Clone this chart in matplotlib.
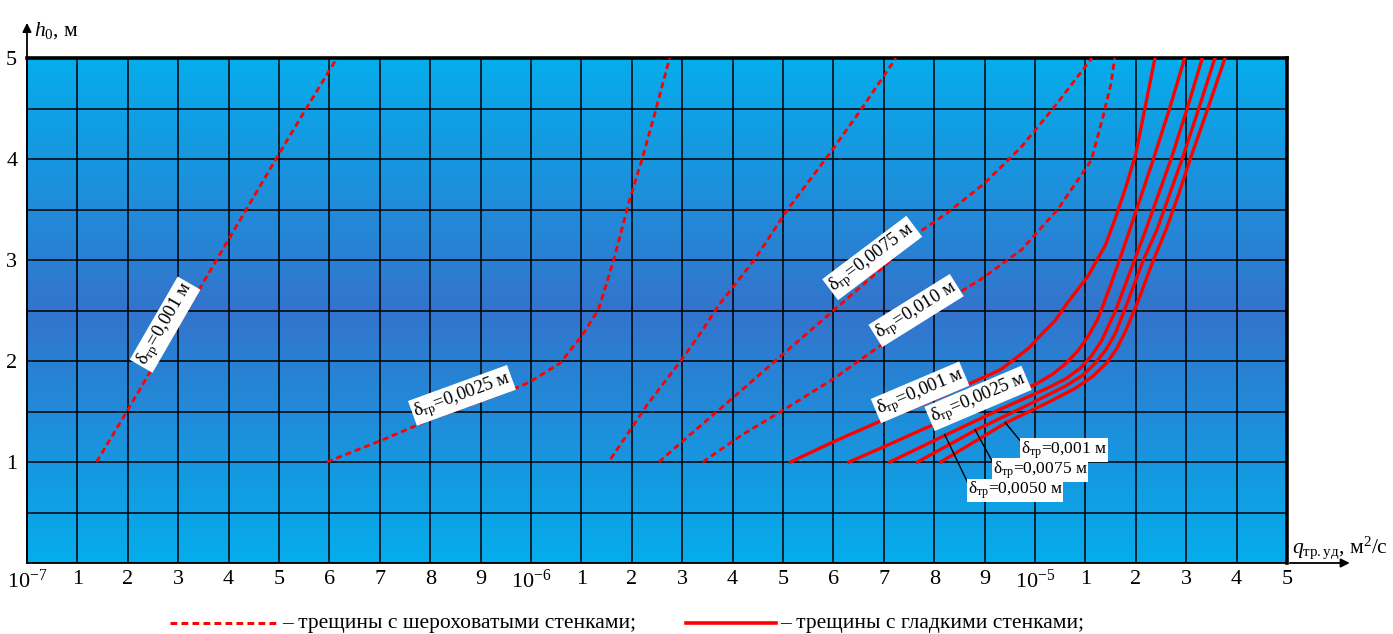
import matplotlib
matplotlib.use("Agg")
import matplotlib.pyplot as plt
from matplotlib.colors import LinearSegmentedColormap
from matplotlib.lines import Line2D
import numpy as np

plt.rcParams['font.family'] = ['Liberation Serif', 'DejaVu Serif']
plt.rcParams['mathtext.fontset'] = 'custom'
plt.rcParams['mathtext.rm'] = 'Liberation Serif'
plt.rcParams['mathtext.it'] = 'Liberation Serif:italic'

# x axis: equally spaced ticks 10^-7, 1..9, 10^-6, 1..9, 10^-5, 1..5
x_labels = ["10$^{\\mathrm{-7}}$"] + [str(i) for i in range(1, 10)] + ["10$^{\\mathrm{-6}}$"] + \
           [str(i) for i in range(1, 10)] + ["10$^{\\mathrm{-5}}$"] + [str(i) for i in range(1, 6)]
y_ticks = [1, 2, 3, 4, 5]

# rough-wall cracks (dashed), x in tick-index units, y = h0
rough_001_x = [1.38, 1.98, 2.57, 3.17, 3.76, 4.35, 4.94, 5.54, 6.15]
rough_001_y = [1.0, 1.5, 2.0, 2.5, 3.0, 3.5, 4.0, 4.5, 5.0]
rough_0025_x = [5.95, 7.06, 8.0, 9.0, 9.79, 10.0, 10.58, 11.01, 11.34, 11.64, 11.97, 12.21, 12.44, 12.75]
rough_0025_y = [1.0, 1.22, 1.42, 1.6, 1.75, 1.8, 1.98, 2.25, 2.51, 3.0, 3.62, 4.01, 4.42, 5.0]
rough_3_x = [11.58, 12.0, 12.31, 12.97, 13.37, 13.72, 14.43, 15.09, 15.89, 16.55, 17.24]
rough_3_y = [1.03, 1.34, 1.57, 2.0, 2.28, 2.55, 3.0, 3.5, 4.03, 4.49, 5.0]
rough_0075_x = [12.54, 12.97, 13.9, 14.89, 15.98, 17.08, 17.6, 18.27, 19.0, 19.73, 20.39, 21.13]
rough_0075_y = [1.0, 1.19, 1.59, 2.02, 2.49, 2.97, 3.24, 3.47, 3.76, 4.12, 4.52, 5.0]
rough_010_x = [13.41, 14.16, 14.96, 16.02, 17.01, 17.94, 18.93, 19.73, 20.45, 21.12, 21.35, 21.51, 21.58]
rough_010_y = [1.0, 1.26, 1.5, 1.83, 2.18, 2.51, 2.81, 3.1, 3.5, 3.99, 4.42, 4.75, 5.0]

# smooth-wall cracks (solid)
smooth_1_x = [15.15, 16.0, 17.0, 18.0, 18.9, 19.3, 19.6, 19.88, 20.1, 20.4, 20.65, 21.05, 21.4,
              21.62, 21.82, 22.0, 22.18, 22.38]
smooth_1_y = [1.0, 1.2, 1.42, 1.62, 1.82, 1.91, 2.02, 2.13, 2.25, 2.4, 2.58, 2.84, 3.15,
              3.45, 3.75, 4.05, 4.5, 5.0]
smooth_2_x = [16.31, 17.0, 17.8, 18.9, 19.7, 20.05, 20.35, 20.6, 20.85, 21.05, 21.25, 21.5, 21.78,
              22.05, 22.35, 22.67, 22.97]
smooth_2_y = [1.0, 1.15, 1.33, 1.55, 1.7, 1.78, 1.87, 1.97, 2.1, 2.24, 2.42, 2.75, 3.15,
              3.55, 4.0, 4.5, 5.0]
smooth_3_x = [17.12, 18.24, 19.3, 20.2, 20.6, 20.9, 21.12, 21.32, 21.6, 21.9, 22.2, 22.45, 22.7,
              23.02, 23.32]
smooth_3_y = [1.0, 1.27, 1.52, 1.72, 1.82, 1.93, 2.05, 2.2, 2.5, 2.9, 3.3, 3.65, 4.0, 4.5, 5.0]
smooth_4_x = [17.67, 18.84, 19.8, 20.6, 20.95, 21.2, 21.42, 21.6, 21.85, 22.15, 22.42, 22.67, 22.92,
              23.25, 23.57]
smooth_4_y = [1.0, 1.32, 1.55, 1.75, 1.86, 1.98, 2.12, 2.28, 2.6, 3.0, 3.3, 3.65, 4.0, 4.5, 5.0]
smooth_5_x = [18.13, 19.43, 20.3, 20.8, 21.15, 21.42, 21.62, 21.8, 22.05, 22.35, 22.6, 22.85, 23.08,
              23.43, 23.77]
smooth_5_y = [1.0, 1.39, 1.6, 1.73, 1.85, 1.98, 2.12, 2.3, 2.6, 3.0, 3.3, 3.65, 4.0, 4.5, 5.0]

fig = plt.figure(figsize=(13.93, 6.34), dpi=100)
ax = fig.add_axes([27 / 1393, 71 / 634, 1260 / 1393, 505 / 634])

# background gradient: light at top/bottom, darker in the middle
cmap = LinearSegmentedColormap.from_list("bg", ["#05adec", "#3374cc", "#05adec"])
grad = np.linspace(0, 1, 256).reshape(-1, 1)
ax.imshow(grad, cmap=cmap, aspect='auto', extent=(0, 25, 0, 5), origin='lower', zorder=0)

ax.set_xlim(0, 25)
ax.set_ylim(0, 5)
ax.set_xticks(range(26))
ax.set_xticklabels(x_labels, fontsize=16)
ax.set_yticks(y_ticks)
ax.set_yticklabels([str(v) for v in y_ticks], fontsize=16)
ax.set_yticks(np.arange(0, 5.01, 0.5), minor=True)
ax.tick_params(which='both', length=0)
ax.tick_params(axis='x', pad=5)
ax.tick_params(axis='y', pad=7)
ax.grid(which='both', color='black', linewidth=1.1, zorder=1)
ax.set_axisbelow(False)
for s in ['top', 'right']:
    ax.spines[s].set_linewidth(2.6)
for s in ['left', 'bottom']:
    ax.spines[s].set_linewidth(1.3)

dash = (0, (2.2, 1.4))
for xs, ys in [(rough_001_x, rough_001_y), (rough_0025_x, rough_0025_y), (rough_3_x, rough_3_y),
               (rough_0075_x, rough_0075_y), (rough_010_x, rough_010_y)]:
    ax.plot(xs, ys, color='#ff0000', lw=2.0, linestyle=dash, zorder=3)
for xs, ys in [(smooth_1_x, smooth_1_y), (smooth_2_x, smooth_2_y), (smooth_3_x, smooth_3_y),
               (smooth_4_x, smooth_4_y), (smooth_5_x, smooth_5_y)]:
    ax.plot(xs, ys, color='#ff0000', lw=2.4, zorder=3, solid_joinstyle='round')

box = dict(facecolor='white', edgecolor='none', pad=1.2)
rotated = [
    ("δ$_{\\mathrm{тр}}$=0,001 м", 2.74, 2.36, 60),
    ("δ$_{\\mathrm{тр}}$=0,0025 м", 8.63, 1.66, 20),
    ("δ$_{\\mathrm{тр}}$=0,0075 м", 16.77, 3.02, 37),
    ("δ$_{\\mathrm{тр}}$=0,010 м", 17.64, 2.5, 32),
    ("δ$_{\\mathrm{тр}}$=0,001 м", 17.72, 1.69, 23),
    ("δ$_{\\mathrm{тр}}$=0,0025 м", 18.87, 1.63, 23),
]
for txt, x, y, r in rotated:
    ax.text(x, y, txt, fontsize=13.5, rotation=r, rotation_mode='anchor',
            ha='center', va='center', bbox=box, zorder=5)

# labels with leader lines
flat = [
    ("δ$_{\\mathrm{тр}}$=0,001 м", 20.58, 1.12, (19.74, 1.19), (19.41, 1.39)),
    ("δ$_{\\mathrm{тр}}$=0,0075 м", 20.1, 0.92, (19.17, 0.99), (18.81, 1.32)),
    ("δ$_{\\mathrm{тр}}$=0,0050 м", 19.6, 0.72, (18.67, 0.79), (18.21, 1.27)),
]
for txt, x, y, p0, p1 in flat:
    ax.plot([p0[0], p1[0]], [p0[1], p1[1]], color='black', lw=1.0, zorder=4)
    ax.text(x, y, txt, fontsize=12.5, ha='center', va='center',
            bbox=dict(facecolor='white', edgecolor='none', pad=0.6), zorder=5)

# axis arrows
ax.annotate("", xy=(0, 1.075), xytext=(0, 0), xycoords='axes fraction',
            arrowprops=dict(arrowstyle='-|>', color='black', lw=1.3, mutation_scale=13),
            annotation_clip=False)
ax.annotate("", xy=(1.052, 0), xytext=(1.0, 0), xycoords='axes fraction',
            arrowprops=dict(arrowstyle='-|>', color='black', lw=1.3, mutation_scale=13),
            annotation_clip=False)

fig.text(34 / 1393, 1 - 31 / 634, "$h_0$, м", fontsize=15.5, ha='left', va='center')
fig.text(1292 / 1393, 1 - 548 / 634, "$q_{\\mathrm{тр.уд}}$, м$^{\\mathrm{2}}$/с", fontsize=15.5,
         ha='left', va='center')

# legend at bottom
fig.add_artist(Line2D([170 / 1393, 278 / 1393], [0.017, 0.017], color='#ff0000', lw=2.2,
                      linestyle=dash))
fig.text(282 / 1393, 0.017, "– трещины с шероховатыми стенками;", fontsize=15.5,
         ha='left', va='center')
fig.add_artist(Line2D([686 / 1393, 776 / 1393], [0.017, 0.017], color='#ff0000', lw=2.6))
fig.text(780 / 1393, 0.017, "– трещины с гладкими стенками;", fontsize=15.5,
         ha='left', va='center')

fig.savefig("out.png", dpi=100)
